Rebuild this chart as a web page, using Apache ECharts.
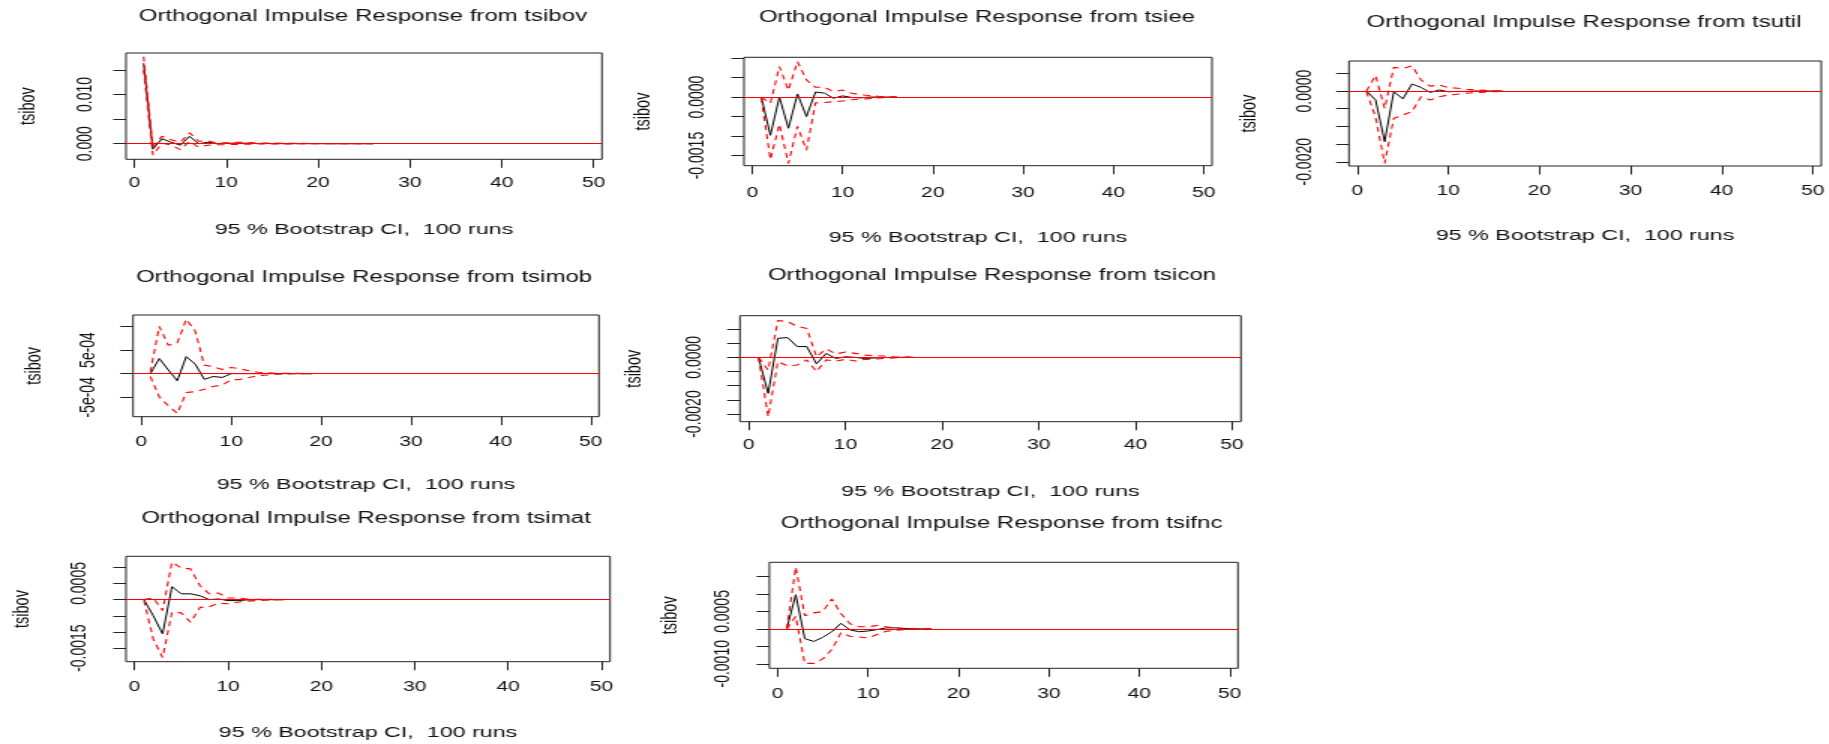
<!DOCTYPE html>
<html>
<head>
<meta charset="utf-8">
<script src="https://cdn.jsdelivr.net/npm/echarts@6/dist/echarts.min.js"></script>
<style>
html,body{margin:0;padding:0;background:#fff;overflow:hidden;}
#wrap{width:1829px;height:744px;overflow:hidden;position:relative;background:#fff;}
#chart{width:1219.33px;height:744px;transform:scaleX(1.5);transform-origin:0 0;}
</style>
</head>
<body>
<div id="wrap"><div id="chart"></div></div>
<script>
// ---------- data ----------
const steps = [1,2,3,4,5,6,7,8,9,10,11,12,13,14,15,16,17,18,19,20,21,22,23,24,25,26];
const xTicks = [0,10,20,30,40,50];
const yName = "tsibov";
const xCaption = "95 % Bootstrap CI,  100 runs";

const titles = [
  "Orthogonal Impulse Response from tsibov",
  "Orthogonal Impulse Response from tsiee",
  "Orthogonal Impulse Response from tsutil",
  "Orthogonal Impulse Response from tsimob",
  "Orthogonal Impulse Response from tsicon",
  "Orthogonal Impulse Response from tsimat",
  "Orthogonal Impulse Response from tsifnc"
];

// tsibov
const tsibovIrf   = [0.01635,-0.0011,0.0010,0.0003,-0.0003,0.0015,0.0000,0.0003,0.0000,0.0001,0.0001,0.0001,0.00005,0.00003,0.00002,0.00001,0.00001,0,0,0,0,0,0,0,0,0];
const tsibovUpper = [0.0177,-0.0006,0.0015,0.0008,0.0003,0.0022,0.0005,0.0006,0.0001,0.0002,0.0003,0.00025,0.0002,0.00015,0.00012,0.0001,0.00008,0.00006,0.00005,0.00004,0.00003,0.00002,0.00002,0.00001,0.00001,0];
const tsibovLower = [0.0150,-0.0023,0.0001,-0.0003,-0.0012,0.0005,-0.0007,-0.0003,-0.0002,-0.0002,-0.00015,-0.0001,-0.00008,-0.00006,-0.00005,-0.00004,-0.00003,-0.00002,-0.00002,-0.00001,-0.00001,-0.00001,0,0,0,0];
const tsibovTicks = [0,0.005,0.01,0.015];
const tsibovLabelVals = [0,0.01];
const tsibovLabelTexts = ["0.000","0.010"];

// tsiee
const tsieeIrf   = [0,-0.00098,0.0,-0.0008,0.00008,-0.0005,0.00013,0.0001,-0.00003,0.00003,-0.00001,-0.00002,0,0,0,0];
const tsieeUpper = [0,-0.00016,0.00078,0.00018,0.00091,0.00044,0.00025,0.00025,0.00014,0.00018,0.0001,0.00006,0.00004,0.00002,0.00001,0];
const tsieeLower = [-0.00003,-0.0016,-0.0007,-0.0017,-0.00075,-0.00136,-0.00015,-0.00014,-0.00012,-0.0001,-0.00007,-0.00005,-0.00004,-0.00002,-0.00001,0];
const tsieeTicks = [-0.0015,-0.001,-0.0005,0,0.0005,0.001];
const tsieeLabelVals = [-0.0015,0];
const tsieeLabelTexts = ["-0.0015","0.0000"];

// tsutil
const tsutilIrf   = [0,-0.00025,-0.00143,-0.00002,-0.00022,0.0002,0.0001,-0.00004,0.00003,-0.00002,-0.00001,-0.00001,0,0,0,0];
const tsutilUpper = [0,0.00044,-0.00049,0.00067,0.00064,0.00071,0.00031,0.00014,0.00017,0.0001,0.00008,0.00005,0.00003,0.00002,0.00001,0];
const tsutilLower = [-0.00002,-0.00073,-0.00205,-0.00077,-0.00068,-0.00058,-0.00016,-0.00025,-0.00016,-0.00011,-0.00009,-0.00006,-0.00004,-0.00003,-0.00002,-0.00001];
const tsutilTicks = [-0.002,-0.0015,-0.001,-0.0005,0,0.0005];
const tsutilLabelVals = [-0.002,0];
const tsutilLabelTexts = ["-0.0020","0.0000"];

// tsimob
const tsimobIrf   = [0,0.00032,0.00008,-0.00015,0.00036,0.0002,-0.00012,-0.00006,-0.00008,0,0,0,0,0,0,0,0,0,0];
const tsimobUpper = [0.00004,0.001,0.0006,0.00065,0.00115,0.0009,0.00018,0.00015,0.00009,0.00013,0.0001,0.00006,0.00003,0.00002,0.00001,0.00001,0.00001,0,0];
const tsimobLower = [-0.00006,-0.00049,-0.00068,-0.00084,-0.0004,-0.00038,-0.00033,-0.00027,-0.00024,-0.00013,-0.00012,-0.00008,-0.00004,-0.00003,-0.00001,-0.00001,0,0,0];
const tsimobTicks = [-0.0005,0,0.0005,0.001];
const tsimobLabelVals = [-0.0005,0.0005];
const tsimobLabelTexts = ["-5e-04","5e-04"];

// tsicon
const tsiconIrf   = [0,-0.00127,0.00067,0.0007,0.00038,0.00038,-0.00023,0.00014,-0.00004,0.00002,0,-0.00004,-0.00002,-0.00001,0,0,0];
const tsiconUpper = [0,-0.00045,0.0013,0.00126,0.0011,0.00102,0.00002,0.0003,0.00012,0.00019,0.00014,0.00008,0.00006,0.00005,0.00002,0.00001,0];
const tsiconLower = [0,-0.00209,-0.00015,-0.0003,-0.00027,-0.00009,-0.0005,-0.00009,-0.00013,-0.00007,-0.00013,-0.00007,-0.00006,-0.00004,-0.00002,0,0.00001];
const tsiconTicks = [-0.002,-0.0015,-0.001,-0.0005,0,0.0005,0.001];
const tsiconLabelVals = [-0.002,0];
const tsiconLabelTexts = ["-0.0020","0.0000"];

// tsimat
const tsimatIrf   = [0,-0.0005,-0.00106,0.0004,0.00018,0.00018,0.00012,0,0.00002,-0.00003,-0.00003,-0.00001,0,0,0,0];
const tsimatUpper = [0,0.00005,-0.00034,0.00116,0.00098,0.00095,0.00043,0.00018,0.0002,0.00005,0.00005,0.00002,0.00001,0.00001,0,0];
const tsimatLower = [-0.00003,-0.00122,-0.00179,-0.00039,-0.00041,-0.0007,-0.00024,-0.00022,-0.00011,-0.00013,-0.00008,-0.00005,-0.00003,-0.00002,-0.00001,0];
const tsimatTicks = [-0.0015,-0.001,-0.0005,0,0.0005,0.001];
const tsimatLabelVals = [-0.0015,0.0005];
const tsimatLabelTexts = ["-0.0015","0.0005"];

// tsifnc
const tsifncIrf   = [0,0.00098,-0.00028,-0.00036,-0.00024,-0.00008,0.00016,-0.00003,-0.00008,-0.00006,-0.00002,0.00003,0.00003,0.00001,0,0,0];
const tsifncUpper = [0,0.00177,0.00038,0.00046,0.0005,0.00086,0.00044,0.00015,0.00006,0.00006,0.0001,0.00006,0.00003,0.00002,0.00001,0,0];
const tsifncLower = [0,0.00036,-0.00099,-0.00099,-0.00086,-0.00059,-0.00011,-0.00021,-0.00023,-0.00026,-0.00016,-0.00007,-0.00004,-0.00002,-0.00001,0,0];
const tsifncTicks = [-0.001,-0.0005,0,0.0005,0.001,0.0015];
const tsifncLabelVals = [-0.001,0.0005];
const tsifncLabelTexts = ["-0.0010","0.0005"];

// ---------- panel definitions (axis ranges) ----------
const panels = [
  {irf:tsibovIrf, up:tsibovUpper, lo:tsibovLower, ymin:-0.00317, ymax:0.01843, ticks:tsibovTicks, lv:tsibovLabelVals, lt:tsibovLabelTexts},
  {irf:tsieeIrf,  up:tsieeUpper,  lo:tsieeLower,  ymin:-0.00176, ymax:0.00102, ticks:tsieeTicks,  lv:tsieeLabelVals,  lt:tsieeLabelTexts},
  {irf:tsutilIrf, up:tsutilUpper, lo:tsutilLower, ymin:-0.00212, ymax:0.00085, ticks:tsutilTicks, lv:tsutilLabelVals, lt:tsutilLabelTexts},
  {irf:tsimobIrf, up:tsimobUpper, lo:tsimobLower, ymin:-0.00091, ymax:0.00124, ticks:tsimobTicks, lv:tsimobLabelVals, lt:tsimobLabelTexts},
  {irf:tsiconIrf, up:tsiconUpper, lo:tsiconLower, ymin:-0.00227, ymax:0.00147, ticks:tsiconTicks, lv:tsiconLabelVals, lt:tsiconLabelTexts},
  {irf:tsimatIrf, up:tsimatUpper, lo:tsimatLower, ymin:-0.00192, ymax:0.00134, ticks:tsimatTicks, lv:tsimatLabelVals, lt:tsimatLabelTexts},
  {irf:tsifncIrf, up:tsifncUpper, lo:tsifncLower, ymin:-0.00113, ymax:0.00191, ticks:tsifncTicks, lv:tsifncLabelVals, lt:tsifncLabelTexts}
];

// ---------- layout (unscaled px; page is stretched horizontally) ----------
const layout = [
  {L:84,    R:401.3, T:53,    B:159.3, tx:242,   ty:17.5,  cap:true,  capGap:62,   xm:16.7, yGap:58,   ym:20.3},
  {L:496,   R:808,   T:57.3,  B:165.7, tx:651.3, ty:18.3,  cap:true,  capGap:64.5, xm:20,   yGap:59.4, ym:24.3},
  {L:899.3, R:1216,  T:61,    B:166,   tx:1056,  ty:23.3,  cap:true,  capGap:62.2, xm:17.7, yGap:59.3, ym:22.3},
  {L:88.7,  R:399.3, T:315,   B:416.7, tx:242.7, ty:278.3, cap:true,  capGap:60.5, xm:18,   yGap:58.7, ym:22.4},
  {L:493.3, R:827.3, T:315.7, B:421.7, tx:661.3, ty:276.7, cap:true,  capGap:62.2, xm:16.3, yGap:63.3, ym:23},
  {L:84,    R:406.7, T:556.3, B:661.7, tx:244,   ty:519,   cap:true,  capGap:62.8, xm:18,   yGap:62,   ym:24},
  {L:512.9, R:825.3, T:562.3, B:668.3, tx:667.7, ty:524,   cap:false, capGap:62,   xm:18.7, yGap:58.9, ym:23.9}
];

const FONT = "'Liberation Sans', Arial, Helvetica, sans-serif";
const INK = '#111';

function pts(vals){ return vals.map(function(v,i){ return [steps[i], v]; }); }

const option = {
  animation:false,
  backgroundColor:'#ffffff',
  title:[], grid:[], xAxis:[], yAxis:[], series:[]
};

panels.forEach(function(p, i){
  const g = layout[i];
  option.title.push({
    text:titles[i], left:g.tx, top:g.ty - 8.8, textAlign:'center', padding:0,
    textStyle:{fontFamily:FONT, fontSize:16, fontWeight:'normal', color:INK}
  });
  option.grid.push({
    left:g.L, top:g.T, width:g.R - g.L, height:g.B - g.T,
    show:true, borderColor:'#222', borderWidth:1, backgroundColor:'rgba(0,0,0,0)'
  });
  option.xAxis.push({
    type:'value', gridIndex:i, min:-0.92, max:50.92,
    splitLine:{show:false},
    axisLine:{show:false, onZero:false},
    axisTick:{show:true, customValues:xTicks, length:8.5, lineStyle:{color:'#222', width:1}},
    axisLabel:{customValues:xTicks, margin:g.xm, fontFamily:FONT, fontSize:14, color:INK},
    name: g.cap ? xCaption : '',
    nameLocation:'middle', nameGap:g.capGap,
    nameTextStyle:{fontFamily:FONT, fontSize:15.5, color:INK}
  });
  option.yAxis.push({
    type:'value', gridIndex:i, min:p.ymin, max:p.ymax,
    splitLine:{show:false},
    axisLine:{show:false, onZero:false},
    axisTick:{show:true, customValues:p.ticks, length:8.5, lineStyle:{color:'#222', width:1}},
    axisLabel:{
      customValues:p.lv, rotate:90, margin:g.ym, fontFamily:FONT, fontSize:14, color:INK,
      formatter:function(v){
        const k = p.lv.findIndex(function(t){ return Math.abs(t - v) < 1e-12; });
        return k >= 0 ? p.lt[k] : '';
      }
    },
    name:yName, nameLocation:'middle', nameRotate:90, nameGap:g.yGap,
    nameTextStyle:{fontFamily:FONT, fontSize:14.5, color:INK}
  });
  option.series.push({
    type:'line', xAxisIndex:i, yAxisIndex:i, data:pts(p.irf), symbol:'none', silent:true,
    lineStyle:{color:'#000', width:1}, z:2
  });
  option.series.push({
    type:'line', xAxisIndex:i, yAxisIndex:i, data:[], symbol:'none', silent:true, z:3,
    markLine:{symbol:'none', silent:true, label:{show:false}, animation:false,
      lineStyle:{color:'#ff0000', width:1, type:'solid'}, data:[{yAxis:0}]}
  });
  option.series.push({
    type:'line', xAxisIndex:i, yAxisIndex:i, data:pts(p.up), symbol:'none', silent:true,
    lineStyle:{color:'#ff0000', width:1.1, type:[5,4]}, z:4
  });
  option.series.push({
    type:'line', xAxisIndex:i, yAxisIndex:i, data:pts(p.lo), symbol:'none', silent:true,
    lineStyle:{color:'#ff0000', width:1.1, type:[5,4]}, z:4
  });
});

const chart = echarts.init(document.getElementById('chart'), null, {renderer:'canvas', width:1829/1.5, height:744});
chart.setOption(option);
</script>
</body>
</html>
